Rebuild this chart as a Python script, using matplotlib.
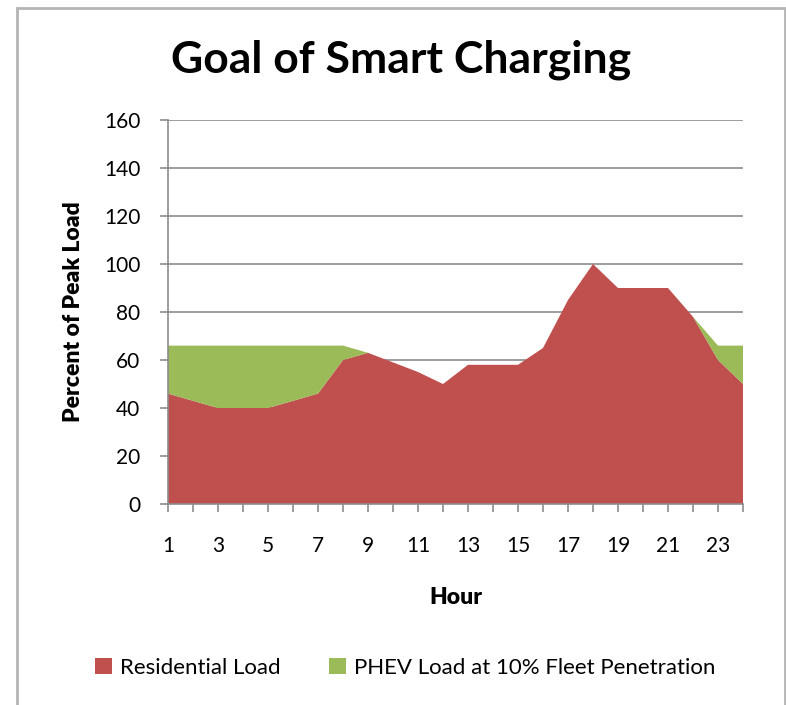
import numpy as np
import matplotlib.pyplot as plt
from matplotlib.patches import Rectangle

# Hourly load profile, percent of peak
hours = np.arange(1, 25)
residential = [46, 43, 40, 40, 40, 43, 46, 60, 63, 59, 55, 50,
               58, 58, 58, 65, 85, 100, 90, 90, 90, 78, 60, 50]
phev = [20, 23, 26, 26, 26, 23, 20, 6, 0, 0, 0, 0,
        0, 0, 0, 0, 0, 0, 0, 0, 0, 0, 6, 16]

x_tick_labels = [str(h) for h in range(1, 24, 2)]
y_ticks = list(range(0, 161, 20))

RED = '#C0504D'
GREEN = '#9BBB59'
GRID = '#8C8C8C'

plt.rcParams['font.family'] = ['Lato', 'DejaVu Sans']

fig = plt.figure(figsize=(7.86, 7.05), dpi=100)
fig.patches.append(Rectangle((17 / 786, -0.05), (785 - 17) / 786, 1.05 - 8 / 705,
                             transform=fig.transFigure, fill=False,
                             edgecolor='#B4B4B4', linewidth=2.0))

ax = fig.add_axes([168 / 786, 1 - 504 / 705, (743 - 168) / 786, (504 - 120) / 705])

ax.stackplot(hours, residential, phev, colors=[RED, GREEN],
             labels=['Residential Load', 'PHEV Load at 10% Fleet Penetration'],
             linewidth=0, zorder=2)

ax.set_xlim(1, 24)
ax.set_ylim(0, 160)
ax.set_yticks(y_ticks)
ax.set_xticks(hours, minor=True)
ax.set_xticks(range(1, 24, 2))
ax.set_xticklabels(x_tick_labels)

for y in y_ticks[1:]:
    ax.axhline(y, color=GRID, linewidth=1.2, zorder=1)

for side in ['top', 'right']:
    ax.spines[side].set_visible(False)
for side in ['left', 'bottom']:
    ax.spines[side].set_color(GRID)
    ax.spines[side].set_linewidth(1.2)
    ax.spines[side].set_zorder(3)

ax.tick_params(axis='both', which='both', color=GRID, width=1.2, length=6,
               labelsize=15, direction='out')
ax.tick_params(axis='x', which='major', pad=17)
ax.tick_params(axis='y', pad=14)

ax.set_xlabel('Hour', fontsize=16.5, fontweight='heavy', labelpad=22)
ax.set_ylabel('Percent of Peak Load', fontsize=16.5, fontweight='heavy', labelpad=14)

fig.suptitle('Goal of Smart Charging', x=401 / 786, y=1 - 40 / 705,
             fontsize=32, fontweight='bold', va='top')

fig.legend(loc='center', bbox_to_anchor=(405 / 786, 1 - 668 / 705), ncol=2,
           frameon=False, fontsize=16, handlelength=0.75, handleheight=0.75,
           handletextpad=0.35, columnspacing=2.2)

fig.savefig('out.png', dpi=100)
